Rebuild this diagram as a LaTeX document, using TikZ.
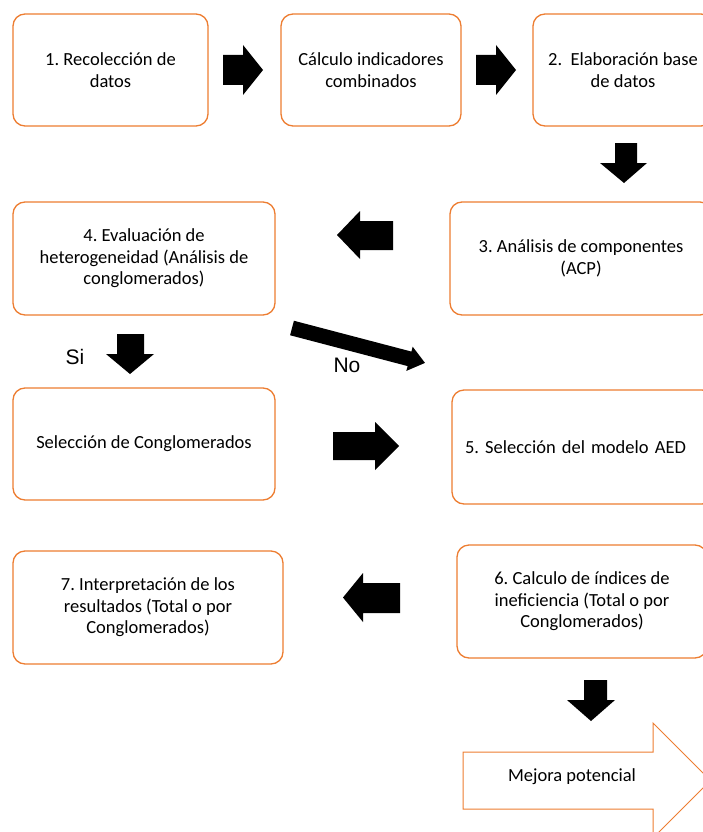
\documentclass[tikz,border=0pt]{standalone}
\usepackage{fontspec}
\setmainfont{Carlito}
\newfontfamily\rotulofont{Liberation Sans}
\definecolor{naranja}{HTML}{ED7D31}
\frenchspacing

\begin{document}
\begin{tikzpicture}[x=1pt,y=-1pt,
    caja/.style={draw=naranja,line width=1.3pt,rounded corners=12pt,fill=white,
      align=center,inner sep=0pt,font=\fontsize{18.5}{21.5}\selectfont},
    flecha/.style={fill=black},
    rotulo/.style={inner sep=0pt,font=\rotulofont\fontsize{21}{24}\selectfont}]
    \useasboundingbox (0,0) rectangle (703,832);
    \clip (0,0) rectangle (703,832);
    % cajas
    \node[caja,minimum width=195pt,minimum height=112pt] (caa) at (110.5,70) {1. Recolección de\\datos};
    \node[caja,minimum width=180pt,minimum height=112pt] (cab) at (371,70) {Cálculo indicadores\\combinados};
    \node[caja,minimum width=180pt,minimum height=112pt] (cac) at (623,70) {2.\ \ Elaboración base\\de datos};
    \node[caja,minimum width=262pt,minimum height=113pt] (cba) at (144,258.5) {4. Evaluación de\\heterogeneidad (Análisis de\\conglomerados)};
    \node[caja,minimum width=262pt,minimum height=113pt] (cbb) at (581,258.5) {3. Análisis de componentes\\(ACP)};
    \node[caja,minimum width=262pt,minimum height=112pt] (cca) at (144,444) {Selección de Conglomerados};
    \node[caja,minimum width=262pt,minimum height=114pt,align=left,text width=236pt] (ccb) at (583,447) {5. Selección del modelo AED};
    \node[caja,minimum width=250pt,minimum height=113pt] (cda) at (582,601.5) {6. Calculo de índices de\\ineficiencia (Total o por\\Conglomerados)};
    \node[caja,minimum width=270pt,minimum height=113pt] (cdb) at (148,607.5) {7. Interpretación de los\\resultados (Total o por\\Conglomerados)};
    % flechas
    \fill[flecha] (223,55)--(243,55)--(243,45)--(263,70)--(243,95)--(243,85)--(223,85)--cycle;
    \fill[flecha] (476,55)--(496,55)--(496,45)--(516,70)--(496,95)--(496,85)--(476,85)--cycle;
    \fill[flecha] (615,143)--(637,143)--(637,163)--(647,163)--(624,183)--(600,163)--(615,163)--cycle;
    \fill[flecha] (393,221)--(360,221)--(360,211)--(337,235)--(360,259)--(360,250)--(393,250)--cycle;
    \fill[flecha] (117,334)--(144,334)--(144,354)--(154,354)--(130,374)--(106,354)--(117,354)--cycle;
    \begin{scope}[shift={(292,328)},rotate=-14.7]
      \fill[flecha] (0,-7.5)--(121.5,-7.5)--(121.5,-12.5)--(137.5,0)--(121.5,12.5)--(121.5,7.5)--(0,7.5)--cycle;
    \end{scope}
    \fill[flecha] (333,432)--(375,432)--(375,422)--(399,446)--(375,470)--(375,460)--(333,460)--cycle;
    \fill[flecha] (400,583)--(363,583)--(363,573)--(343,597.5)--(363,622)--(363,613)--(400,613)--cycle;
    \fill[flecha] (584,680)--(607,680)--(607,700)--(615,700)--(591,721)--(567,700)--(584,700)--cycle;
    \draw[naranja,line width=1pt,fill=white] (463,752)--(653,752)--(653,723)--(710.5,780.5)--(653,838)--(653,809)--(463,809)--cycle;
    % textos
    \node[font=\fontsize{18.5}{21.5}\selectfont] (mej) at (572,777) {Mejora potencial};
    \node[rotulo] (si) at (75,357) {Si};
    \node[rotulo] (no) at (347,365) {No};
  \end{tikzpicture}
\end{document}
